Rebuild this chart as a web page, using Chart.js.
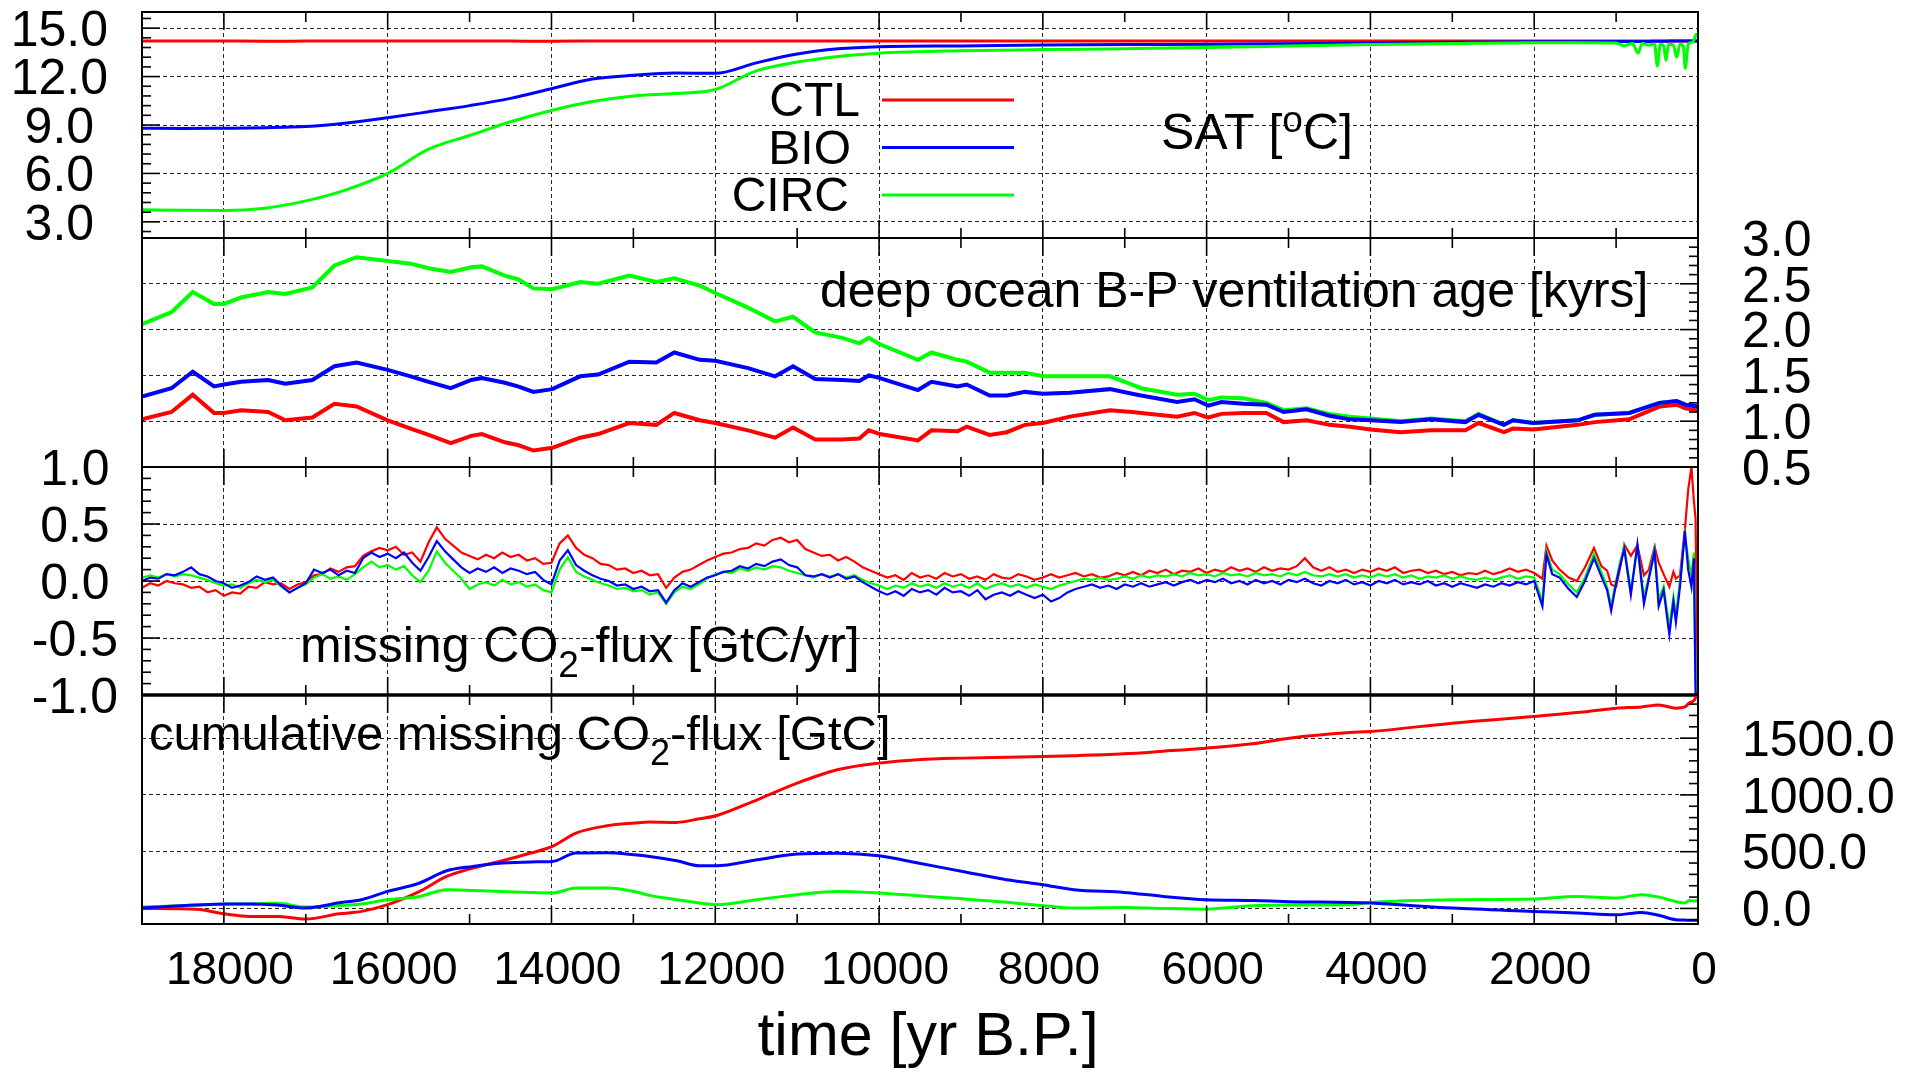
<!DOCTYPE html>
<html>
<head>
<meta charset="utf-8">
<title>Deglacial model runs: CTL, BIO, CIRC</title>
<script src="https://cdn.jsdelivr.net/npm/chart.js@4.4.1/dist/chart.umd.min.js"></script>
<style>
  html, body { margin: 0; padding: 0; background: #ffffff; }
  #figure { position: relative; width: 1926px; height: 1072px; background: #ffffff; overflow: hidden; }
  #figure canvas { position: absolute; left: 0; top: 0; }
</style>
</head>
<body>
<div id="figure">
  <canvas id="satPanel" width="1926" height="1072"></canvas>
  <canvas id="ventPanel" width="1926" height="1072"></canvas>
  <canvas id="fluxPanel" width="1926" height="1072"></canvas>
  <canvas id="cumPanel" width="1926" height="1072"></canvas>
</div>
<script>
// ---------------- data ----------------
// Surface air temperature [deg C]
const satYears = [
  19000, 18500, 18000, 17500, 17000, 16500, 16000, 15500, 15000, 14500,
  14000, 13500, 13000, 12500, 12000, 11500, 11000, 10500, 10000, 9000,
  8000, 7000, 6000, 5000, 4000, 3000, 2000, 1500, 1000, 900,
  800, 733, 680, 600, 530, 497, 460, 420, 391, 360,
  300, 260, 220, 180, 155, 120, 60, 24, 0
];
const satCTL = [
  14.20, 14.21, 14.20, 14.19, 14.20, 14.21, 14.20, 14.20, 14.21, 14.20,
  14.19, 14.20, 14.21, 14.20, 14.20, 14.21, 14.20, 14.20, 14.21, 14.20,
  14.20, 14.21, 14.20, 14.20, 14.21, 14.20, 14.20, 14.21, 14.20, 14.20,
  14.21, 14.20, 14.20, 14.21, 14.20, 14.20, 14.21, 14.20, 14.20, 14.21,
  14.20, 14.20, 14.21, 14.20, 14.20, 14.21, 14.20, 14.20, 14.20
];
const satBIO = [
  8.80, 8.78, 8.80, 8.83, 8.90, 9.12, 9.45, 9.82, 10.20, 10.65,
  11.25, 11.85, 12.08, 12.22, 12.20, 12.85, 13.40, 13.72, 13.85, 13.90,
  13.95, 13.98, 14.00, 14.03, 14.08, 14.12, 14.15, 14.16, 14.17, 14.17,
  14.18, 14.18, 14.18, 14.18, 14.19, 14.19, 14.19, 14.19, 14.19, 14.20,
  14.20, 14.20, 14.20, 14.20, 14.20, 14.20, 14.20, 14.20, 14.20
];
const satCIRC = [
  3.75, 3.72, 3.70, 3.85, 4.30, 5.00, 6.00, 7.50, 8.35, 9.20,
  9.90, 10.45, 10.80, 10.95, 11.20, 12.35, 12.90, 13.25, 13.45, 13.60,
  13.67, 13.73, 13.80, 13.90, 13.98, 14.05, 14.10, 14.10, 14.08, 13.90,
  14.05, 13.45, 14.05, 13.95, 14.02, 12.65, 14.00, 13.90, 13.00, 14.00,
  13.95, 13.20, 14.00, 13.90, 12.50, 14.00, 14.15, 14.60, 14.45
];

// Deep ocean B-P ventilation age [kyrs]
const ventYears = [
  19000, 18640, 18380, 18120, 18000, 17790, 17460, 17250, 16920, 16650,
  16380, 16000, 15720, 15500, 15230, 14980, 14850, 14570, 14410, 14220,
  13990, 13650, 13430, 13050, 12720, 12500, 12190, 12000, 11600, 11270,
  11050, 10780, 10450, 10240, 10125, 9990, 9525, 9360, 9040, 8930,
  8650, 8440, 8220, 8000, 7670, 7180, 6910, 6800, 6360, 6150,
  5980, 5820, 5550, 5270, 5060, 4780, 4500, 4250, 4000, 3630,
  3260, 2840, 2680, 2370, 2260, 2010, 1470, 1260, 840, 470,
  260, 155, 0
];
const ventCTL = [
  1.02, 1.10, 1.29, 1.09, 1.09, 1.12, 1.10, 1.01, 1.04, 1.19,
  1.16, 1.01, 0.92, 0.85, 0.76, 0.84, 0.86, 0.77, 0.74, 0.68,
  0.71, 0.82, 0.86, 0.98, 0.96, 1.09, 1.01, 0.98, 0.90, 0.82,
  0.93, 0.80, 0.80, 0.81, 0.90, 0.86, 0.79, 0.90, 0.89, 0.94,
  0.85, 0.88, 0.96, 0.98, 1.05, 1.12, 1.10, 1.09, 1.05, 1.09,
  1.04, 1.08, 1.09, 1.09, 0.99, 1.01, 0.96, 0.94, 0.91, 0.88,
  0.90, 0.90, 0.98, 0.88, 0.92, 0.91, 0.96, 0.99, 1.02, 1.16,
  1.18, 1.14, 1.12
];
const ventBIO = [
  1.27, 1.36, 1.54, 1.38, 1.40, 1.43, 1.45, 1.41, 1.45, 1.60,
  1.64, 1.56, 1.49, 1.43, 1.36, 1.45, 1.47, 1.42, 1.38, 1.32,
  1.35, 1.49, 1.51, 1.65, 1.64, 1.75, 1.67, 1.66, 1.58, 1.49,
  1.60, 1.46, 1.45, 1.44, 1.50, 1.47, 1.34, 1.43, 1.38, 1.40,
  1.28, 1.28, 1.32, 1.30, 1.31, 1.35, 1.30, 1.28, 1.21, 1.24,
  1.17, 1.21, 1.19, 1.18, 1.10, 1.13, 1.06, 1.02, 1.01, 0.99,
  1.02, 0.99, 1.07, 0.96, 1.01, 0.98, 1.01, 1.07, 1.09, 1.20,
  1.22, 1.18, 1.16
];
const ventCIRC = [
  2.06, 2.19, 2.41, 2.28, 2.28, 2.35, 2.41, 2.39, 2.46, 2.70,
  2.79, 2.75, 2.72, 2.67, 2.63, 2.68, 2.69, 2.59, 2.55, 2.45,
  2.44, 2.52, 2.50, 2.59, 2.52, 2.56, 2.48, 2.40, 2.24, 2.09,
  2.14, 1.97, 1.91, 1.85, 1.91, 1.84, 1.67, 1.75, 1.67, 1.65,
  1.53, 1.53, 1.53, 1.49, 1.49, 1.49, 1.40, 1.36, 1.29, 1.30,
  1.23, 1.26, 1.25, 1.20, 1.12, 1.14, 1.08, 1.05, 1.03, 1.00,
  1.03, 1.00, 1.08, 0.96, 1.01, 0.98, 1.01, 1.07, 1.09, 1.20,
  1.22, 1.18, 1.16
];

// Missing CO2 flux [GtC/yr]
const fluxYears = [
  19000, 18900, 18800, 18700, 18600, 18500, 18400, 18300, 18200, 18100,
  18000, 17900, 17800, 17700, 17600, 17500, 17400, 17300, 17200, 17100,
  17000, 16900, 16800, 16700, 16600, 16500, 16400, 16300, 16200, 16100,
  16000, 15900, 15800, 15700, 15600, 15500, 15400, 15300, 15200, 15100,
  15000, 14900, 14800, 14700, 14600, 14500, 14400, 14300, 14200, 14100,
  14000, 13900, 13800, 13700, 13600, 13500, 13400, 13300, 13200, 13100,
  13000, 12900, 12800, 12700, 12600, 12500, 12400, 12300, 12200, 12100,
  12000, 11900, 11800, 11700, 11600, 11500, 11400, 11300, 11200, 11100,
  11000, 10900, 10800, 10700, 10600, 10500, 10400, 10300, 10200, 10100,
  10000, 9900, 9800, 9700, 9600, 9500, 9400, 9300, 9200, 9100,
  9000, 8900, 8800, 8700, 8600, 8500, 8400, 8300, 8200, 8100,
  8000, 7900, 7800, 7700, 7600, 7500, 7400, 7300, 7200, 7100,
  7000, 6900, 6800, 6700, 6600, 6500, 6400, 6300, 6200, 6100,
  6000, 5900, 5800, 5700, 5600, 5500, 5400, 5300, 5200, 5100,
  5000, 4900, 4800, 4700, 4600, 4500, 4400, 4300, 4200, 4100,
  4000, 3900, 3800, 3700, 3600, 3500, 3400, 3300, 3200, 3100,
  3000, 2900, 2800, 2700, 2600, 2500, 2400, 2300, 2200, 2100,
  2000, 1900, 1850, 1780, 1690, 1580, 1480, 1380, 1270, 1180,
  1110, 1060, 1000, 950, 900, 820, 740, 660, 600, 530,
  480, 420, 350, 300, 270, 220, 160, 120, 80, 50,
  30, 0
];
const fluxCTL = [
  -0.06, -0.02, -0.04, 0.00, -0.02, -0.03, -0.06, -0.05, -0.10, -0.08,
  -0.13, -0.10, -0.11, -0.05, -0.06, -0.01, -0.03, -0.02, -0.07, -0.03,
  -0.01, 0.05, 0.06, 0.11, 0.08, 0.12, 0.13, 0.22, 0.26, 0.29,
  0.27, 0.30, 0.23, 0.25, 0.17, 0.34, 0.47, 0.37, 0.31, 0.25,
  0.22, 0.19, 0.23, 0.20, 0.25, 0.21, 0.23, 0.18, 0.20, 0.15,
  0.16, 0.33, 0.40, 0.29, 0.23, 0.20, 0.15, 0.14, 0.10, 0.11,
  0.07, 0.09, 0.05, 0.06, -0.06, 0.03, 0.08, 0.10, 0.14, 0.18,
  0.21, 0.24, 0.25, 0.28, 0.29, 0.33, 0.31, 0.36, 0.38, 0.34,
  0.36, 0.28, 0.25, 0.22, 0.23, 0.18, 0.21, 0.17, 0.12, 0.09,
  0.06, 0.03, 0.05, 0.01, 0.07, 0.03, 0.05, 0.02, 0.07, 0.04,
  0.06, 0.02, 0.04, 0.01, 0.06, 0.03, 0.02, 0.06, 0.04, 0.01,
  0.03, 0.06, 0.03, 0.05, 0.07, 0.04, 0.06, 0.03, 0.04, 0.07,
  0.05, 0.08, 0.05, 0.09, 0.07, 0.10, 0.06, 0.09, 0.08, 0.11,
  0.07, 0.10, 0.08, 0.12, 0.09, 0.11, 0.08, 0.12, 0.09, 0.11,
  0.10, 0.13, 0.20, 0.12, 0.09, 0.12, 0.08, 0.10, 0.07, 0.10,
  0.08, 0.11, 0.09, 0.12, 0.07, 0.09, 0.10, 0.07, 0.09, 0.06,
  0.08, 0.05, 0.07, 0.06, 0.09, 0.06, 0.08, 0.11, 0.08, 0.10,
  0.07, 0.02, 0.31, 0.18, 0.10, 0.03, 0.00, 0.12, 0.29, 0.13,
  0.09, -0.03, -0.05, 0.12, 0.32, 0.22, 0.31, 0.05, 0.10, 0.30,
  0.16, 0.06, -0.05, 0.08, 0.02, 0.05, 0.45, 0.80, 1.00, 0.70,
  0.55, -1.10
];
const fluxBIO = [
  0.00, 0.03, 0.02, 0.06, 0.05, 0.08, 0.12, 0.06, 0.04, 0.00,
  -0.02, -0.06, -0.04, -0.01, 0.04, 0.01, 0.03, -0.04, -0.10, -0.06,
  -0.02, 0.10, 0.07, 0.10, 0.05, 0.09, 0.07, 0.20, 0.25, 0.21,
  0.24, 0.20, 0.25, 0.16, 0.09, 0.21, 0.35, 0.26, 0.19, 0.12,
  0.07, 0.11, 0.08, 0.12, 0.07, 0.11, 0.09, 0.06, 0.08, 0.01,
  -0.03, 0.18, 0.27, 0.14, 0.09, 0.05, 0.02, 0.00, -0.04, -0.03,
  -0.07, -0.05, -0.09, -0.08, -0.19, -0.08, -0.02, -0.05, -0.01, 0.03,
  0.05, 0.08, 0.09, 0.13, 0.11, 0.15, 0.13, 0.17, 0.19, 0.14,
  0.12, 0.05, 0.04, 0.06, 0.03, 0.06, 0.02, 0.04, -0.01, -0.05,
  -0.09, -0.12, -0.09, -0.13, -0.07, -0.10, -0.08, -0.12, -0.06, -0.10,
  -0.09, -0.13, -0.08, -0.16, -0.12, -0.10, -0.13, -0.09, -0.12, -0.15,
  -0.12, -0.18, -0.15, -0.10, -0.07, -0.05, -0.03, -0.06, -0.04, -0.07,
  -0.03, -0.05, -0.02, -0.05, -0.03, -0.01, -0.04, -0.01, 0.01, -0.02,
  0.01, -0.01, 0.02, -0.02, 0.00, -0.03, 0.01, -0.02, 0.00, -0.03,
  0.01, -0.01, 0.02, -0.02, -0.04, 0.00, -0.02, 0.01, -0.03, -0.01,
  -0.04, 0.00, -0.02, 0.01, -0.03, -0.01, -0.03, 0.00, -0.04, -0.02,
  -0.05, -0.02, -0.04, -0.06, -0.03, -0.05, -0.02, -0.04, -0.01, -0.03,
  0.00, -0.22, 0.23, 0.06, 0.03, -0.07, -0.14, 0.00, 0.20, 0.04,
  -0.08, -0.26, -0.02, 0.14, 0.28, -0.12, 0.32, -0.20, 0.02, 0.26,
  -0.22, -0.08, -0.47, -0.18, -0.36, -0.05, 0.44, 0.10, -0.05, 0.20,
  -0.98, -1.10
];
const fluxCIRC = [
  0.03, 0.05, 0.03, 0.06, 0.04, 0.06, 0.05, 0.03, 0.01, -0.02,
  -0.04, -0.03, -0.06, -0.02, 0.01, -0.01, 0.01, -0.05, -0.10, -0.06,
  -0.03, 0.03, 0.06, 0.02, 0.04, 0.01, 0.06, 0.12, 0.17, 0.12,
  0.14, 0.10, 0.13, 0.05, -0.01, 0.09, 0.26, 0.16, 0.09, 0.02,
  -0.07, -0.03, -0.01, -0.04, 0.01, -0.03, -0.01, -0.05, -0.03, -0.08,
  -0.10, 0.10, 0.21, 0.08, 0.04, 0.01, -0.02, -0.04, -0.07, -0.06,
  -0.09, -0.08, -0.12, -0.10, -0.20, -0.10, -0.05, -0.07, -0.03, 0.02,
  0.06, 0.08, 0.07, 0.11, 0.09, 0.12, 0.10, 0.13, 0.12, 0.09,
  0.07, 0.05, 0.03, 0.06, 0.04, 0.06, 0.03, 0.05, 0.01, -0.02,
  -0.04, -0.07, -0.04, -0.06, -0.02, -0.05, -0.03, -0.06, -0.02, -0.05,
  -0.03, -0.06, -0.02, -0.07, -0.04, -0.02, -0.05, -0.03, -0.06, -0.03,
  -0.05, -0.07, -0.04, -0.02, 0.00, 0.02, 0.01, 0.03, 0.01, 0.02,
  0.04, 0.02, 0.05, 0.03, 0.05, 0.04, 0.06, 0.04, 0.07, 0.05,
  0.06, 0.04, 0.07, 0.05, 0.06, 0.04, 0.07, 0.05, 0.06, 0.04,
  0.07, 0.05, 0.08, 0.05, 0.04, 0.06, 0.04, 0.06, 0.03, 0.05,
  0.03, 0.06, 0.04, 0.06, 0.03, 0.05, 0.02, 0.04, 0.03, 0.05,
  0.02, 0.04, 0.02, 0.01, 0.03, 0.01, 0.03, 0.05, 0.02, 0.04,
  0.03, -0.18, 0.26, 0.10, 0.06, -0.03, -0.10, 0.03, 0.24, 0.08,
  -0.05, -0.22, 0.00, 0.17, 0.30, -0.08, 0.30, -0.14, 0.04, 0.28,
  -0.16, -0.05, -0.40, -0.14, -0.30, 0.00, 0.40, 0.20, 0.05, 0.25,
  -0.90, -1.10
];

// Cumulative missing CO2 flux [GtC]
const cumYears = [
  19000, 18335, 18000, 17680, 17350, 17000, 16590, 16320, 16000, 15610,
  15280, 14960, 14600, 14250, 13990, 13700, 13320, 12990, 12800, 12470,
  12190, 11990, 11490, 11000, 10510, 10000, 9525, 8980, 8440, 8000,
  7620, 7010, 6530, 6010, 5440, 4990, 4250, 4000, 3000, 2010,
  1480, 1000, 690, 480, 270, 160, 110, 40, 0
];
const cumCTL = [
  0, -8, -47, -70, -70, -93, -47, -26, 33, 150,
  282, 356, 420, 488, 546, 664, 728, 752, 762, 758,
  790, 816, 957, 1104, 1221, 1280, 1310, 1324, 1332, 1338,
  1345, 1362, 1385, 1412, 1450, 1500, 1549, 1558, 1632, 1690,
  1725, 1764, 1775, 1793, 1764, 1775, 1808, 1840, 1930
];
const cumBIO = [
  3, 30, 39, 39, 30, 3, 50, 77, 150, 224,
  332, 370, 400, 410, 414, 488, 490, 473, 458, 420,
  376, 376, 429, 479, 487, 464, 400, 326, 253, 209,
  165, 141, 106, 77, 70, 60, 53, 47, 3, -26,
  -41, -56, -35, -60, -99, -102, -105, -105, -105
];
const cumCIRC = [
  12, 30, 36, 40, 45, 12, 25, 39, 77, 106,
  165, 159, 150, 140, 136, 180, 180, 150, 115, 77,
  47, 33, 77, 121, 150, 136, 112, 85, 55, 24,
  3, 9, 0, -6, 24, 30, 33, 53, 77, 83,
  106, 92, 121, 100, 60, 47, 70, 65, 70
];

// Tick values (labelled, gridded) and axis ranges
const timeTickValues = [18000, 16000, 14000, 12000, 10000, 8000, 6000, 4000, 2000, 0];
const timeRange = { min: 0, max: 19000, minor: 1000, major: 2000 };
const satTickValues = [3, 6, 9, 12, 15];
const ventTickValues = [0.5, 1.0, 1.5, 2.0, 2.5, 3.0];
const fluxTickValues = [-1.0, -0.5, 0.0, 0.5, 1.0];
const cumTickValues = [0, 500, 1000, 1500];
const satRange = { min: 2, max: 16, minor: 0.6, major: 3 };
const ventRange = { min: 0.5, max: 3.0, minor: 0.1, major: 0.5 };
const fluxRange = { min: -1, max: 1, minor: 0.1, major: 0.5 };
const cumRange = { min: -137, max: 1880, minor: 100, major: 500 };

// ---------------- styling / layout ----------------
const FONT = '"Liberation Sans", Arial, Helvetica, sans-serif';
const W = 1926, H = 1072;
const PLOT_LEFT = 142, PLOT_RIGHT = 1698;
const GRID = 'rgba(0,0,0,0.85)';
const COLORS = { CTL: '#ff0000', BIO: '#0000ff', CIRC: '#00ff00' };
const Y_LABEL_SIZE = 50, X_LABEL_SIZE = 46, NOTE_SIZE = 50;

Chart.defaults.color = '#000';
Chart.defaults.font.family = FONT;

// Frame plus inward major/minor tick marks
const panelFrame = {
  id: 'panelFrame',
  afterDatasetsDraw(chart, args, opts) {
    const { ctx, chartArea: a, scales: { x, y } } = chart;
    ctx.save();
    ctx.strokeStyle = '#000';
    ctx.lineCap = 'butt';
    const seg = (x1, y1, x2, y2) => { ctx.beginPath(); ctx.moveTo(x1, y1); ctx.lineTo(x2, y2); ctx.stroke(); };
    ctx.lineWidth = 1.6;
    for (let t = timeRange.min; t <= timeRange.max; t += timeRange.minor) {
      const px = x.getPixelForValue(t);
      const len = t % timeRange.major === 0 ? 18 : 10;
      seg(px, a.top, px, a.top + len);
      seg(px, a.bottom, px, a.bottom - len);
    }
    const r = opts.range;
    const n0 = Math.ceil(r.min / r.minor - 1e-9), n1 = Math.floor(r.max / r.minor + 1e-9);
    for (let n = n0; n <= n1; n++) {
      const v = n * r.minor;
      const q = v / r.major;
      const len = Math.abs(q - Math.round(q)) < 1e-6 ? 18 : 9;
      const py = y.getPixelForValue(v);
      if (opts.side === 'left') seg(a.left, py, a.left + len, py);
      else seg(a.right, py, a.right - len, py);
    }
    ctx.lineWidth = 2;
    ctx.strokeRect(a.left, a.top, a.right - a.left, a.bottom - a.top);
    if (opts.heavyBottom) {
      ctx.lineWidth = 3.5;
      seg(a.left - 1, a.bottom, a.right + 1, a.bottom);
    }
    ctx.restore();
  }
};

// Text with optional sub/superscript pieces
function drawRich(ctx, item) {
  const size = item.size || NOTE_SIZE;
  const segs = item.parts.map(p => (typeof p === 'string' ? { t: p, kind: '' } : p));
  const fontFor = k => `${k ? Math.round(size * 0.74) : size}px ${FONT}`;
  let total = 0;
  segs.forEach(s => { ctx.font = fontFor(s.kind); s.w = ctx.measureText(s.t).width; total += s.w; });
  let x = item.align === 'right' ? item.x - total : item.align === 'center' ? item.x - total / 2 : item.x;
  ctx.textAlign = 'left';
  ctx.textBaseline = item.baseline || 'alphabetic';
  segs.forEach(s => {
    ctx.font = fontFor(s.kind);
    const dy = s.kind === 'sub' ? size * 0.3 : s.kind === 'sup' ? -size * 0.34 : 0;
    ctx.fillText(s.t, x, item.y + dy);
    x += s.w;
  });
}

const notes = {
  id: 'notes',
  beforeDatasetsDraw(chart, args, opts) {
    const ctx = chart.ctx;
    ctx.save();
    ctx.fillStyle = '#000';
    (opts.items || []).forEach(it => drawRich(ctx, it));
    if (opts.key) {
      const k = opts.key;
      k.order.forEach((name, i) => {
        const ds = chart.data.datasets.find(d => d.label === name);
        const yy = k.y + i * k.dy;
        drawRich(ctx, { parts: [name], x: k.textRight[i], y: yy + 3, align: 'right', baseline: 'middle', size: 48 });
        ctx.strokeStyle = ds.borderColor;
        ctx.lineWidth = 3;
        ctx.beginPath(); ctx.moveTo(k.lineFrom, yy); ctx.lineTo(k.lineTo, yy); ctx.stroke();
      });
    }
    ctx.restore();
  }
};

const fixedTicks = values => scale => { scale.ticks = values.map(v => ({ value: v })); };

function timeAxis(showLabels) {
  return {
    type: 'linear', reverse: true, min: timeRange.min, max: timeRange.max,
    afterBuildTicks: fixedTicks(timeTickValues),
    afterFit(s) { s.height = showLabels ? H - 924 : 0; s.paddingLeft = s.paddingRight = s.paddingTop = s.paddingBottom = 0; },
    grid: { color: GRID, lineWidth: 1, drawTicks: false },
    border: { display: false, dash: [4, 3] },
    ticks: {
      display: showLabels, autoSkip: false, maxRotation: 0, minRotation: 0, padding: 20, labelOffset: 6,
      color: '#000', font: { family: FONT, size: X_LABEL_SIZE }, callback: v => String(v)
    }
  };
}

function makePanel(id, cfg) {
  const left = cfg.side === 'left';
  const series = cfg.series.map(s => ({
    label: s.label,
    data: s.xs.map((xv, i) => ({ x: xv, y: s.ys[i] })),
    borderColor: COLORS[s.label],
    borderWidth: cfg.lineWidth,
    cubicInterpolationMode: cfg.smooth ? 'monotone' : 'default',
    pointRadius: 0, tension: 0, fill: false
  }));
  return new Chart(document.getElementById(id), {
    type: 'line',
    data: { datasets: series },
    options: {
      responsive: false, animation: false, devicePixelRatio: 1, events: [],
      layout: { padding: {
        top: cfg.band[0], bottom: cfg.showTime ? 0 : H - cfg.band[1],
        left: left ? 0 : PLOT_LEFT, right: left ? W - PLOT_RIGHT : 0 } },
      scales: {
        x: timeAxis(!!cfg.showTime),
        y: {
          type: 'linear', position: cfg.side, min: cfg.range.min, max: cfg.range.max,
          afterBuildTicks: fixedTicks(cfg.tickValues),
          afterFit(s) { s.width = left ? PLOT_LEFT : W - PLOT_RIGHT; s.paddingLeft = s.paddingRight = s.paddingTop = s.paddingBottom = 0; },
          grid: { color: GRID, lineWidth: 1, drawTicks: false },
          border: { display: false, dash: [4, 3] },
          ticks: {
            autoSkip: false, crossAlign: left ? 'center' : 'near', padding: cfg.labelPad, labelOffset: 4,
            color: '#000', font: { family: FONT, size: Y_LABEL_SIZE }, callback: v => Number(v).toFixed(1)
          }
        }
      },
      plugins: {
        legend: { display: false }, tooltip: { enabled: false },
        panelFrame: { side: cfg.side, range: cfg.range, heavyBottom: !!cfg.heavyBottom },
        notes: { items: cfg.notes || [], key: cfg.key || null }
      }
    },
    plugins: [panelFrame, notes]
  });
}

// ---------------- panels ----------------
makePanel('satPanel', {
  band: [12, 238], side: 'left', range: satRange, tickValues: satTickValues, labelPad: 34, lineWidth: 3, smooth: true,
  series: [
    { label: 'CIRC', xs: satYears, ys: satCIRC },
    { label: 'BIO', xs: satYears, ys: satBIO },
    { label: 'CTL', xs: satYears, ys: satCTL }
  ],
  notes: [{ parts: ['SAT [', { t: 'o', kind: 'sup' }, 'C]'], x: 1161, y: 149 }],
  key: { order: ['CTL', 'BIO', 'CIRC'], textRight: [860, 851, 849], lineFrom: 882, lineTo: 1014, y: 100, dy: 47.5 }
});

makePanel('ventPanel', {
  band: [238, 467], side: 'right', range: ventRange, tickValues: ventTickValues, labelPad: 44, lineWidth: 4,
  series: [
    { label: 'BIO', xs: ventYears, ys: ventBIO },
    { label: 'CIRC', xs: ventYears, ys: ventCIRC },
    { label: 'CTL', xs: ventYears, ys: ventCTL }
  ],
  notes: [{ parts: ['deep ocean B-P ventilation age [kyrs]'], x: 820, y: 307 }]
});

makePanel('fluxPanel', {
  band: [467, 695], side: 'left', range: fluxRange, tickValues: fluxTickValues, labelPad: 24, lineWidth: 2.2, heavyBottom: true,
  series: [
    { label: 'BIO', xs: fluxYears, ys: fluxBIO },
    { label: 'CIRC', xs: fluxYears, ys: fluxCIRC },
    { label: 'CTL', xs: fluxYears, ys: fluxCTL }
  ],
  notes: [{ parts: ['missing CO', { t: '2', kind: 'sub' }, '-flux [GtC/yr]'], x: 300, y: 662 }]
});

makePanel('cumPanel', {
  band: [695, 924], side: 'right', range: cumRange, tickValues: cumTickValues, labelPad: 44, lineWidth: 3, showTime: true, smooth: true,
  series: [
    { label: 'BIO', xs: cumYears, ys: cumBIO },
    { label: 'CIRC', xs: cumYears, ys: cumCIRC },
    { label: 'CTL', xs: cumYears, ys: cumCTL }
  ],
  notes: [
    { parts: ['cumulative missing CO', { t: '2', kind: 'sub' }, '-flux [GtC]'], x: 149, y: 750, size: 49 },
    { parts: ['time [yr B.P.]'], x: 928, y: 1055, align: 'center', size: 61 }
  ]
});
</script>
</body>
</html>
